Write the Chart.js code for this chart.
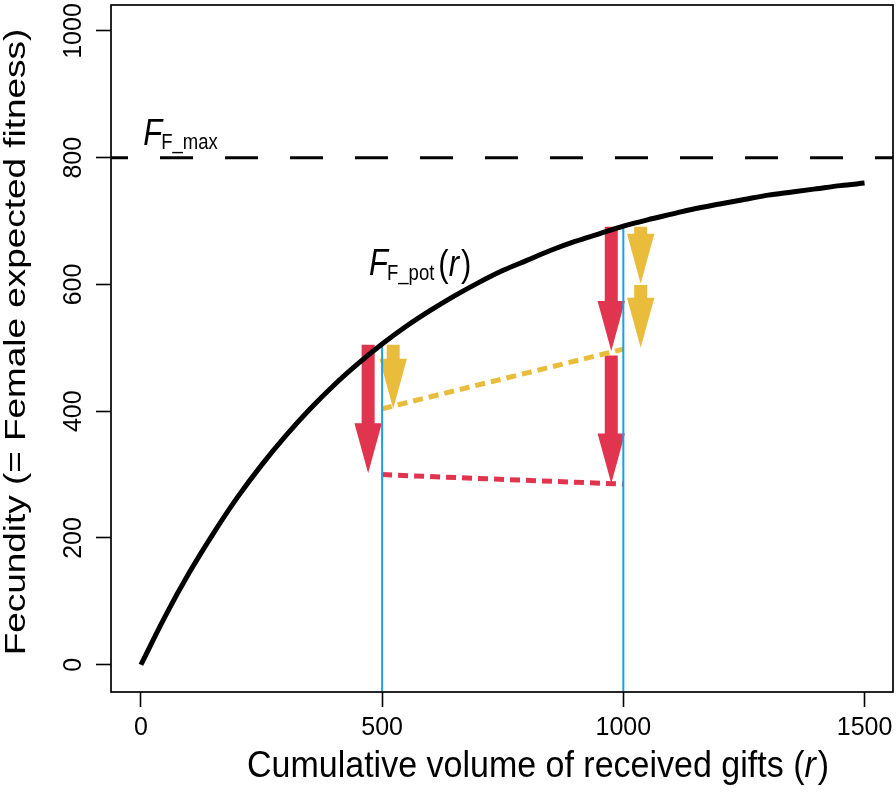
<!DOCTYPE html>
<html>
<head>
<meta charset="utf-8">
<script src="https://cdn.jsdelivr.net/npm/chart.js@4.4.1/dist/chart.umd.min.js"></script>
<style>
  html, body { margin: 0; padding: 0; background: #fff; }
  #wrap { width: 896px; height: 792px; }
</style>
</head>
<body>
<div id="wrap"><canvas id="fecundityChart" width="896" height="792"></canvas></div>
<script>
// Eixos
const xTicks = [0, 500, 1000, 1500];
const yTicks = [0, 200, 400, 600, 800, 1000];
const xLimits = [-62, 1559];
const yLimits = [-43, 1041];

// Curva F_F_pot(r)
const giftVolume = [0, 50, 100, 150, 200, 250, 300, 350, 400, 450, 500, 550, 600, 650, 700, 750,
    800, 850, 900, 950, 1000, 1050, 1100, 1150, 1200, 1250, 1300, 1350, 1400, 1450, 1500];
const fecundity = [0, 76, 145, 207, 264, 315, 361, 403, 441, 475, 506, 534, 559, 582, 603, 622,
    638, 654, 668, 680, 692, 702, 711, 720, 727, 734, 741, 746, 751, 756, 760];

// Linha tracejada F_F_max
const fMax = 800;

// Linhas verticais azuis
const markedGifts = [500, 1000];

// Linhas pontilhadas (valor em r = 500 e r = 1000)
const yellowLoss = [404, 498];
const redLoss = [300, 285];

// Setas vermelhas e amarelas
const redArrowX = [471, 975, 975];
const redArrowFrom = [505, 691, 488];
const redArrowTo = [302, 495, 286];
const yellowArrowX = [523, 1036, 1036];
const yellowArrowFrom = [505, 691, 599];
const yellowArrowTo = [404, 601, 500];

const FONT = "'Liberation Sans', Arial, Helvetica, sans-serif";
const RED = '#e0344f';
const YELLOW = '#e9bd3b';
const BLUE = '#1da0e2';

function curveAt(r) {
    return fecundity[giftVolume.indexOf(r)];
}

function drawArrow(ctx, x, yFrom, yTo) {
    const shaftHalf = 6.5, headHalf = 13.7, headLen = 50;
    ctx.beginPath();
    ctx.moveTo(x - shaftHalf, yFrom);
    ctx.lineTo(x + shaftHalf, yFrom);
    ctx.lineTo(x + shaftHalf, yTo - headLen);
    ctx.lineTo(x + headHalf, yTo - headLen);
    ctx.lineTo(x, yTo);
    ctx.lineTo(x - headHalf, yTo - headLen);
    ctx.lineTo(x - shaftHalf, yTo - headLen);
    ctx.closePath();
    ctx.fill();
}

// Texto horizontal em partes (itálico / subscrito), esticado na vertical por sy
function drawRuns(ctx, x, y, runs, sy) {
    let cx = x;
    runs.forEach(function(run) {
        ctx.font = run.font;
        ctx.save();
        ctx.translate(cx, y + (run.dy || 0));
        ctx.scale(1, sy);
        ctx.fillText(run.text, 0, 0);
        ctx.restore();
        cx += ctx.measureText(run.text).width + (run.gap || 0);
    });
}

const arrowsPlugin = {
    id: 'arrows',
    beforeDatasetsDraw(chart) {
        const ctx = chart.ctx;
        const xs = chart.scales.x, ys = chart.scales.y;
        const area = chart.chartArea;
        ctx.save();
        ctx.beginPath();
        ctx.rect(area.left, area.top, area.right - area.left, area.bottom - area.top);
        ctx.clip();
        ctx.fillStyle = RED;
        redArrowX.forEach(function(r, i) {
            drawArrow(ctx, xs.getPixelForValue(r), ys.getPixelForValue(redArrowFrom[i]), ys.getPixelForValue(redArrowTo[i]));
        });
        ctx.fillStyle = YELLOW;
        yellowArrowX.forEach(function(r, i) {
            drawArrow(ctx, xs.getPixelForValue(r), ys.getPixelForValue(yellowArrowFrom[i]), ys.getPixelForValue(yellowArrowTo[i]));
        });
        ctx.restore();
    }
};

const decorPlugin = {
    id: 'decor',
    afterDraw(chart) {
        const ctx = chart.ctx;
        const xs = chart.scales.x, ys = chart.scales.y;
        const area = chart.chartArea;
        ctx.save();

        // Caixa do gráfico
        ctx.strokeStyle = '#000';
        ctx.lineWidth = 1.7;
        ctx.strokeRect(area.left, area.top, area.right - area.left, area.bottom - area.top);

        ctx.fillStyle = '#000';
        ctx.textBaseline = 'alphabetic';

        // Rótulos dos eixos
        ctx.font = '25px ' + FONT;
        ctx.textAlign = 'center';
        xTicks.forEach(function(v) {
            ctx.fillText(String(v), xs.getPixelForValue(v), area.bottom + 43);
        });
        yTicks.forEach(function(v) {
            ctx.save();
            ctx.translate(area.left - 30, ys.getPixelForValue(v));
            ctx.rotate(-Math.PI / 2);
            ctx.fillText(String(v), 0, 0);
            ctx.restore();
        });

        // Título do eixo y
        ctx.save();
        ctx.font = '30px ' + FONT;
        ctx.translate(25, 342);
        ctx.rotate(-Math.PI / 2);
        ctx.scale(1.23, 1);
        ctx.fillText('Fecundity (= Female expected fitness)', 0, 0);
        ctx.restore();

        // Título do eixo x
        ctx.textAlign = 'left';
        drawRuns(ctx, 247, 777, [
            { text: 'Cumulative volume of received gifts (', font: '34px ' + FONT },
            { text: 'r', font: 'italic 34px ' + FONT, gap: 2 },
            { text: ')', font: '34px ' + FONT }
        ], 1.1);

        // F_F_max
        drawRuns(ctx, xs.getPixelForValue(5), ys.getPixelForValue(820), [
            { text: 'F', font: 'italic 31px ' + FONT, gap: -1 },
            { text: 'F_max', font: '18.5px ' + FONT, dy: 4 }
        ], 1.2);

        // F_F_pot(r)
        drawRuns(ctx, xs.getPixelForValue(473), ys.getPixelForValue(615), [
            { text: 'F', font: 'italic 31px ' + FONT, gap: -1 },
            { text: 'F_pot', font: '18.5px ' + FONT, dy: 5, gap: 4 },
            { text: '(', font: '31px ' + FONT, dy: 1 },
            { text: 'r', font: 'italic 31px ' + FONT, gap: 2, dy: 1 },
            { text: ')', font: '31px ' + FONT, dy: 1 }
        ], 1.2);

        ctx.restore();
    }
};

function lineSet(points, color, width, dash, order) {
    return {
        data: points,
        showLine: true,
        borderColor: color,
        borderWidth: width,
        borderDash: dash || [],
        pointRadius: 0,
        fill: false,
        order: order
    };
}

document.addEventListener('DOMContentLoaded', function() {
    const ctx = document.getElementById('fecundityChart').getContext('2d');

    const curve = lineSet(giftVolume.map(function(r, i) { return { x: r, y: fecundity[i] }; }), '#000', 5, null, 0);
    curve.cubicInterpolationMode = 'monotone';

    const maxLine = lineSet([{ x: xLimits[0], y: fMax }, { x: xLimits[1], y: fMax }], '#000', 3, [33, 32], 1);
    maxLine.borderDashOffset = 16;
    maxLine.borderCapStyle = 'butt';

    const blueLines = markedGifts.map(function(r) {
        return lineSet([{ x: r, y: curveAt(r) }, { x: r, y: yLimits[0] }], BLUE, 2, null, 2);
    });

    const yellowDots = lineSet(markedGifts.map(function(r, i) { return { x: r, y: yellowLoss[i] }; }), YELLOW, 5, [10, 6], 3);
    const redDots = lineSet(markedGifts.map(function(r, i) { return { x: r, y: redLoss[i] }; }), RED, 5, [10, 6], 3);

    new Chart(ctx, {
        type: 'scatter',
        data: {
            datasets: [curve, maxLine].concat(blueLines, [yellowDots, redDots])
        },
        options: {
            responsive: false,
            animation: false,
            devicePixelRatio: 1,
            layout: { padding: { left: 0, right: 3, top: 5, bottom: 0 } },
            plugins: {
                legend: { display: false },
                tooltip: { enabled: false }
            },
            scales: {
                x: {
                    type: 'linear',
                    min: xLimits[0],
                    max: xLimits[1],
                    afterBuildTicks: function(scale) {
                        scale.ticks = xTicks.map(function(v) { return { value: v }; });
                    },
                    afterFit: function(scale) { scale.height = 100; },
                    grid: {
                        display: true,
                        drawOnChartArea: false,
                        drawTicks: true,
                        tickLength: 15,
                        tickWidth: 1.6,
                        tickColor: '#000'
                    },
                    border: { display: false },
                    ticks: { display: false }
                },
                y: {
                    type: 'linear',
                    min: yLimits[0],
                    max: yLimits[1],
                    afterBuildTicks: function(scale) {
                        scale.ticks = yTicks.map(function(v) { return { value: v }; });
                    },
                    afterFit: function(scale) { scale.width = 111; },
                    grid: {
                        display: true,
                        drawOnChartArea: false,
                        drawTicks: true,
                        tickLength: 15,
                        tickWidth: 1.6,
                        tickColor: '#000'
                    },
                    border: { display: false },
                    ticks: { display: false }
                }
            }
        },
        plugins: [arrowsPlugin, decorPlugin]
    });
});
</script>
</body>
</html>
